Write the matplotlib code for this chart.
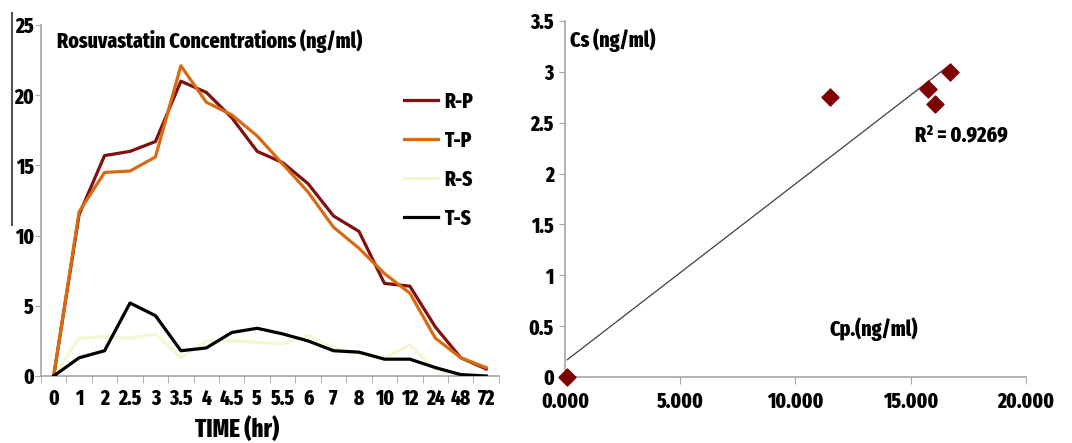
import numpy as np
import matplotlib
matplotlib.use('Agg')
import matplotlib.pyplot as plt
from matplotlib.lines import Line2D

plt.rcParams['font.family'] = ['Fira Sans Extra Condensed', 'DejaVu Sans']
plt.rcParams['font.weight'] = 800
plt.rcParams['axes.labelweight'] = 800

# left chart data
time_labels = ['0', '1', '2', '2.5', '3', '3.5', '4', '4.5', '5', '5.5', '6',
               '7', '8', '10', '12', '24', '48', '72']
r_p = [0, 11.5, 15.7, 16.0, 16.7, 21.0, 20.2, 18.4, 16.0, 15.2, 13.7, 11.4, 10.3, 6.6, 6.4, 3.5, 1.3, 0.5]
t_p = [0, 11.7, 14.5, 14.6, 15.6, 22.1, 19.5, 18.6, 17.1, 15.1, 13.1, 10.6, 9.1, 7.3, 5.9, 2.7, 1.3, 0.6]
r_s = [0, 2.7, 2.8, 2.7, 3.0, 1.3, 2.5, 2.5, 2.4, 2.3, 2.9, 2.0, 1.6, 1.3, 2.2, 0.5, 0.1, 0.0]
t_s = [0, 1.3, 1.8, 5.2, 4.3, 1.8, 2.0, 3.1, 3.4, 3.0, 2.5, 1.8, 1.7, 1.2, 1.2, 0.6, 0.1, 0.0]

# right chart data
cp = [0.1, 11.5, 15.75, 16.05, 16.72]
cs = [0.0, 2.75, 2.83, 2.68, 3.0]

axis_grey = '#a6a6a6'

fig = plt.figure(figsize=(10.72, 4.43), dpi=100)

# ---- left: concentration-time profiles
ax = fig.add_axes([0.0382, 0.1512, 0.4272, 0.7923])
x = np.arange(len(time_labels))
ax.plot(x, r_s, color='#f6f6d2', lw=2.3, label='R-S', zorder=2)
ax.plot(x, r_p, color='#7f1010', lw=2.3, label='R-P', zorder=3)
ax.plot(x, t_p, color='#d86a12', lw=2.3, label='T-P', zorder=4)
ax.plot(x, t_s, color='black', lw=2.3, label='T-S', zorder=5)

ax.set_xlim(-0.5, len(time_labels) - 0.5)
ax.set_ylim(0, 25)
ax.set_yticks([0, 5, 10, 15, 20, 25])
ax.set_xticks(x)
ax.set_xticklabels(time_labels, fontsize=15)
ax.set_xticks(np.arange(-0.5, len(time_labels)), minor=True)
ax.tick_params(axis='x', which='major', length=0, pad=9)
ax.tick_params(axis='x', which='minor', length=5, color=axis_grey, direction='out')
ax.tick_params(axis='y', length=4, color=axis_grey, labelsize=15, pad=1)
for s in ['top', 'right']:
    ax.spines[s].set_visible(False)
for s in ['left', 'bottom']:
    ax.spines[s].set_color(axis_grey)
    ax.spines[s].set_linewidth(1.2)

ax.set_xlabel('TIME (hr)', fontsize=18)
ax.xaxis.set_label_coords(0.429, -0.115)
ax.text(0.035, 0.955, 'Rosuvastatin Concentrations (ng/ml)', transform=ax.transAxes,
        fontsize=15.5, va='center', ha='left')

handles, labels = ax.get_legend_handles_labels()
order = ['R-P', 'T-P', 'R-S', 'T-S']
hmap = dict(zip(labels, handles))
ax.legend([hmap[k] for k in order], order, loc='upper left',
          bbox_to_anchor=(0.7926, 0.812), frameon=False, fontsize=15,
          borderpad=0, borderaxespad=0, labelspacing=0.85,
          handlelength=1.65, handletextpad=0.3)

# stray dark rule at the far left of the original
fig.add_artist(Line2D([12 / 1072, 12 / 1072], [1 - 13 / 443, 1 - 225 / 443],
                      color='#555555', lw=1.5))

# ---- right: Cs vs Cp with trendline
ax2 = fig.add_axes([0.527, 0.149, 0.430, 0.8036])
ax2.scatter(cp, cs, marker='D', s=75, color='#7f0000', zorder=3, clip_on=False)
slope, intercept = np.polyfit(cp, cs, 1)
xs = np.array([min(cp), max(cp)])
ax2.plot(xs, slope * xs + intercept, color='#404040', lw=0.9, zorder=2)

ax2.set_xlim(0, 20)
ax2.set_ylim(0, 3.5)
ax2.set_xticks([0, 5, 10, 15, 20])
ax2.set_xticklabels(['0.000', '5.000', '10.000', '15.000', '20.000'], fontsize=15)
ax2.set_yticks([0, 0.5, 1, 1.5, 2, 2.5, 3, 3.5])
ax2.set_yticklabels(['0', '0.5', '1', '1.5', '2', '2.5', '3', '3.5'], fontsize=15)
ax2.tick_params(axis='x', length=5, color=axis_grey, pad=5)
ax2.tick_params(axis='y', length=4, color=axis_grey, pad=4)
for s in ['top', 'right']:
    ax2.spines[s].set_visible(False)
for s in ['left', 'bottom']:
    ax2.spines[s].set_color(axis_grey)
    ax2.spines[s].set_linewidth(1.2)

ax2.text(0.012, 0.945, 'Cs (ng/ml)', transform=ax2.transAxes, fontsize=15.5,
         va='center', ha='left')
ax2.text(0.575, 0.135, 'Cp.(ng/ml)', transform=ax2.transAxes, fontsize=15.5,
         va='center', ha='left')
ax2.text(0.76, 0.68, 'R² = 0.9269', transform=ax2.transAxes, fontsize=15.5,
         va='center', ha='left')

fig.savefig('out.png', dpi=100)
